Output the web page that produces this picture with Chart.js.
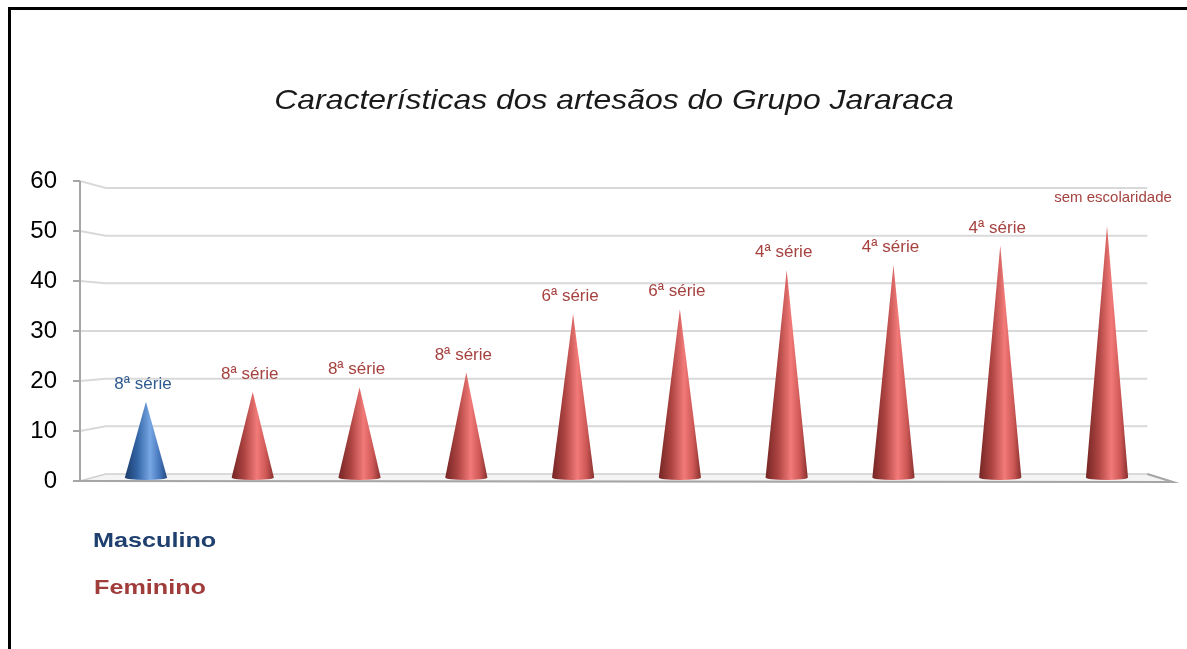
<!DOCTYPE html>
<html>
<head>
<meta charset="utf-8">
<script src="https://cdn.jsdelivr.net/npm/chart.js@4.4.1/dist/chart.umd.min.js"></script>
<style>
  html, body { margin: 0; padding: 0; overflow: hidden; background: #fff; }
  #wrap { position: relative; width: 1187px; height: 649px; }
  #frame { position: absolute; left: 8px; top: 7px; width: 1400px; height: 900px;
           border-left: 3px solid #000; border-top: 3px solid #000; }
  .txt { position: absolute; font-family: "Liberation Sans", Arial, sans-serif; white-space: nowrap; }
  #title { left: 614px; top: 86px; font-size: 28px; line-height: 28px; font-style: italic; color: #1a1a1a;
           transform: translateX(-50%) scaleX(1.14); }
  .leg { font-size: 21px; line-height: 21px; font-weight: bold; transform-origin: left center; transform: scaleX(1.2); }
</style>
</head>
<body>
<div id="wrap">
  <canvas id="myChart" width="1187" height="649"></canvas>
  <div id="frame"></div>
  <div id="title" class="txt">Características dos artesãos do Grupo Jararaca</div>
  <div class="txt leg" style="left:93px; top:529px; color:#1f3f6e;">Masculino</div>
  <div class="txt leg" style="left:94px; top:576px; color:#a03c3a;">Feminino</div>
</div>
<script>
// dados
const escolaridade = ["8ª série", "8ª série", "8ª série", "8ª série", "6ª série",
                      "6ª série", "4ª série", "4ª série", "4ª série", "sem escolaridade"];
const sexo = ["Masculino", "Feminino", "Feminino", "Feminino", "Feminino",
              "Feminino", "Feminino", "Feminino", "Feminino", "Feminino"];
const valores = [15.5, 17.5, 18.5, 21.5, 33.5, 34.5, 42.5, 43.5, 47.5, 51.5];
const yTicks = [0, 10, 20, 30, 40, 50, 60];

// cores por sexo
const cores = {
  Masculino: { stops: ["#1b3b6a", "#3465a6", "#78a7e3", "#4677bd", "#26497d"], label: "#2f5b8f" },
  Feminino: { stops: ["#742624", "#ad4442", "#f27a78", "#cc5755", "#87302e"], label: "#a5423f" },
};

const MID = 0.977;   // profundidade dos cones
const BACK = 0.953;  // parede do fundo

const cone3d = {
  id: "cone3d",
  beforeDatasetsDraw(chart) {
    const { ctx, chartArea: a } = chart;
    const y = chart.scales.y;
    const cx = (a.left + a.right) / 2, cy = (a.top + a.bottom) / 2;
    const bx = (v) => cx + (v - cx) * BACK;
    const by = (v) => cy + (v - cy) * BACK;
    ctx.save();
    // piso
    const f0 = y.getPixelForValue(0);
    ctx.beginPath();
    ctx.moveTo(a.left, f0);
    ctx.lineTo(bx(a.left), by(f0));
    ctx.lineTo(bx(a.right), by(f0));
    ctx.lineTo(a.right, f0 + 1);
    ctx.closePath();
    ctx.fillStyle = "#f4f4f4";
    ctx.fill();
    ctx.lineWidth = 1.5;
    ctx.strokeStyle = "#d0d0d0";
    ctx.stroke();
    ctx.beginPath();
    ctx.moveTo(a.left, f0);
    ctx.lineTo(a.right, f0 + 1);
    ctx.lineTo(bx(a.right), by(f0));
    ctx.lineWidth = 2;
    ctx.strokeStyle = "#a6a6a6";
    ctx.stroke();
    // grade
    y.ticks.forEach((t) => {
      const pf = y.getPixelForValue(t.value);
      const pb = by(pf);
      if (t.value > 0) {
        ctx.beginPath();
        ctx.moveTo(a.left, pf);
        ctx.lineTo(bx(a.left), pb);
        ctx.lineTo(bx(a.right), pb);
        ctx.lineWidth = 2;
        ctx.strokeStyle = "#d9d9d9";
        ctx.stroke();
      }
      ctx.beginPath();
      ctx.moveTo(a.left - 7, pf);
      ctx.lineTo(a.left, pf);
      ctx.lineWidth = 2;
      ctx.strokeStyle = "#a6a6a6";
      ctx.stroke();
    });
    // eixo vertical
    ctx.beginPath();
    ctx.moveTo(a.left, y.getPixelForValue(yTicks[yTicks.length - 1]));
    ctx.lineTo(a.left, f0);
    ctx.lineWidth = 2;
    ctx.strokeStyle = "#a6a6a6";
    ctx.stroke();
    ctx.restore();
  },
  afterDatasetsDraw(chart, args, opts) {
    const { ctx, chartArea: a } = chart;
    const cx = (a.left + a.right) / 2, cy = (a.top + a.bottom) / 2;
    const meta = chart.getDatasetMeta(0);
    ctx.save();
    meta.data.forEach((bar, i) => {
      const c = cores[sexo[i]];
      const x = cx + (bar.x - cx) * MID;
      const tip = cy + (bar.y - cy) * MID;
      const base = cy + (bar.base - cy) * MID;
      const w = bar.width * MID;
      const g = ctx.createLinearGradient(x - w / 2, 0, x + w / 2, 0);
      [0, 0.3, 0.6, 0.82, 1].forEach((s, k) => g.addColorStop(s, c.stops[k]));
      ctx.beginPath();
      ctx.moveTo(x, tip);
      ctx.lineTo(x + w / 2, base);
      ctx.ellipse(x, base, w / 2, 2.5, 0, 0, Math.PI);
      ctx.closePath();
      ctx.fillStyle = g;
      ctx.fill();
      // rótulo
      const last = i === meta.data.length - 1;
      ctx.font = (last ? 15 : 17) + "px 'Liberation Sans', Arial, sans-serif";
      ctx.fillStyle = c.label;
      ctx.textAlign = "center";
      ctx.textBaseline = "alphabetic";
      ctx.fillText(escolaridade[i], x + (last ? opts.lastDx : opts.dx), tip + (last ? opts.lastDy : opts.dy));
    });
    ctx.restore();
  },
};

const ctx = document.getElementById("myChart");

const myChart = new Chart(ctx, {
  type: "bar",
  data: {
    labels: escolaridade,
    datasets: [
      {
        label: "Artesãos",
        data: valores,
        backgroundColor: "rgba(0,0,0,0)",
        borderWidth: 0,
        categoryPercentage: 1,
        barPercentage: 0.395,
      },
    ],
  },
  options: {
    responsive: false,
    animation: false,
    layout: { padding: { left: 0, right: 14, top: 181, bottom: 168 } },
    scales: {
      x: { display: false },
      y: {
        min: yTicks[0],
        max: yTicks[yTicks.length - 1],
        afterFit: (scale) => { scale.width = 80; },
        afterBuildTicks: (scale) => { scale.ticks = yTicks.map((v) => ({ value: v })); },
        grid: { display: false, drawTicks: false },
        border: { display: false },
        ticks: {
          padding: 23,
          color: "#000",
          font: { size: 24, family: "'Liberation Sans', Arial, sans-serif" },
        },
      },
    },
    plugins: {
      legend: { display: false },
      tooltip: { enabled: false },
      cone3d: { dx: -3, dy: -13, lastDx: 6, lastDy: -24 },
    },
  },
  plugins: [cone3d],
});
</script>
</body>
</html>
